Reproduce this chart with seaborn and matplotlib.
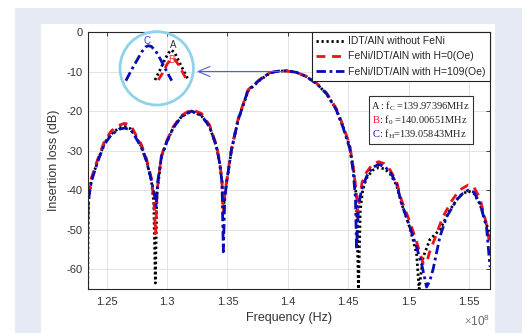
import matplotlib
matplotlib.use("Agg")
import numpy as np
import pandas as pd
import seaborn as sns
import matplotlib.pyplot as plt
from matplotlib.patches import Rectangle, Circle
from matplotlib.ticker import FuncFormatter
from matplotlib.offsetbox import TextArea, HPacker, VPacker, AnchoredOffsetbox

# ---- measured transmission spectra (frequency in units of 1e8 Hz, S21 in dB) ----
black_f = [1.2343, 1.2346, 1.2352, 1.2373, 1.2428, 1.2483, 1.2539, 1.2600, 1.2650, 1.2700,
           1.2733, 1.2788, 1.2829, 1.2870, 1.2890, 1.2903, 1.2916, 1.2953, 1.2995, 1.3050,
           1.3119, 1.3202, 1.3285, 1.3353, 1.3409, 1.3436, 1.3455, 1.3466, 1.3480, 1.3492,
           1.3533, 1.3588, 1.3671, 1.3768, 1.3850, 1.3920, 1.3990, 1.4070, 1.4154, 1.4240,
           1.4320, 1.4400, 1.4458, 1.4513, 1.4545, 1.4568, 1.4585, 1.4600, 1.4620, 1.4651,
           1.4700, 1.4750, 1.4800, 1.4845, 1.4900, 1.4941, 1.5010, 1.5066, 1.5087, 1.5120,
           1.5176, 1.5259, 1.5342, 1.5420, 1.5490, 1.5540, 1.5590, 1.5645, 1.5674]
black_db = [-65, -48, -42, -37.5, -32.4, -28, -25.8, -24.3, -23.9, -24.5,
            -26, -29, -32.4, -37.5, -43, -63.5, -41, -31.6, -28, -24.3,
            -21.4, -20, -21.2, -24, -29, -33.2, -38, -45, -41, -38.3,
            -29.9, -22.3, -14.9, -12.2, -10.4, -9.95, -9.8, -10.2, -11.3, -13.1,
            -15.6, -19.5, -24, -29, -35, -42, -65, -45, -40, -37,
            -35, -34.3, -34.6, -35.8, -38.7, -43.3, -49.5, -56, -65, -57,
            -52.5, -50, -45, -41.5, -40.2, -40.8, -43.5, -48.5, -52]

red_f = [1.2343, 1.2346, 1.2352, 1.2373, 1.2428, 1.2483, 1.2539, 1.2600, 1.2650, 1.2700,
         1.2733, 1.2788, 1.2829, 1.2870, 1.2892, 1.2905, 1.2918, 1.2953, 1.2995, 1.3050,
         1.3119, 1.3202, 1.3285, 1.3353, 1.3409, 1.3436, 1.3455, 1.3466, 1.3480, 1.3492,
         1.3533, 1.3588, 1.3671, 1.3768, 1.3850, 1.3920, 1.3990, 1.4070, 1.4154, 1.4240,
         1.4320, 1.4400, 1.4458, 1.4513, 1.4545, 1.4565, 1.4580, 1.4595, 1.4615, 1.4651,
         1.4700, 1.4750, 1.4800, 1.4845, 1.4900, 1.4941, 1.5010, 1.5066, 1.5100, 1.5120,
         1.5150, 1.5170, 1.5220, 1.5280, 1.5350, 1.5420, 1.5493, 1.5540, 1.5590, 1.5640,
         1.5674]
red_db = [-49, -44, -41, -37, -32, -27.5, -25, -23.6, -23.1, -23.6,
          -25.5, -28.5, -32, -37, -43, -51, -40, -31.3, -27.7, -24,
          -21.1, -19.6, -20.6, -23.6, -28.6, -32.8, -38, -46, -40, -38,
          -29.6, -22, -14.6, -12.0, -10.3, -9.9, -9.9, -10.2, -11.2, -13,
          -15.4, -19.3, -23.7, -28.7, -35, -40, -46, -42, -38, -35.5,
          -33.5, -32.8, -33.3, -34.8, -37.8, -42.5, -48, -53, -56.5, -58.5,
          -58.5, -56, -52, -47, -43, -40, -38.7, -39.2, -42, -48,
          -54]

blue_f = [1.2343, 1.2346, 1.2352, 1.2373, 1.2428, 1.2483, 1.2539, 1.2600, 1.2650, 1.2700,
          1.2733, 1.2788, 1.2829, 1.2870, 1.2895, 1.2910, 1.2922, 1.2953, 1.2995, 1.3050,
          1.3119, 1.3202, 1.3285, 1.3353, 1.3409, 1.3436, 1.3455, 1.3466, 1.3478, 1.3492,
          1.3533, 1.3588, 1.3671, 1.3768, 1.3850, 1.3920, 1.3990, 1.4070, 1.4154, 1.4240,
          1.4320, 1.4400, 1.4458, 1.4513, 1.4540, 1.4560, 1.4569, 1.4585, 1.4610, 1.4651,
          1.4700, 1.4750, 1.4800, 1.4845, 1.4900, 1.4941, 1.5010, 1.5066, 1.5110, 1.5149,
          1.5175, 1.5203, 1.5259, 1.5314, 1.5397, 1.5450, 1.5493, 1.5540, 1.5590, 1.5645,
          1.5674]
blue_db = [-52, -45, -42, -37.8, -32.6, -28.3, -26, -24.6, -24.3, -24.8,
           -26.3, -29.3, -32.6, -37.5, -41, -44, -38, -31.6, -28, -24.3,
           -21.4, -20, -21.1, -24, -29, -33.2, -38, -55.6, -42, -38.3,
           -29.9, -22.3, -14.7, -12.1, -10.3, -9.9, -9.8, -10.2, -11.3, -13.1,
           -15.6, -19.6, -24.2, -29.5, -35, -42, -55, -44, -40, -36.6,
           -34.3, -33.5, -34, -35.3, -38.3, -43.3, -49.3, -54.4, -59, -64.5,
           -63, -60, -51.8, -46.8, -42.5, -40.8, -40, -40.5, -43.3, -49.3,
           -59.4]

series_labels = ["IDT/AlN without FeNi",
                 "FeNi/IDT/AlN with H=0(Oe)",
                 "FeNi/IDT/AlN with H=109(Oe)"]

# close-up of the passband peak (frequency in MHz, dB)
peakA_f = [139.32, 139.50, 139.70, 139.85, 139.97, 140.10, 140.25, 140.45, 140.63]
peakA_db = [-10.12, -10.03, -9.92, -9.85, -9.82, -9.85, -9.93, -10.03, -10.12]
peakB_f = [139.45, 139.62, 139.80, 139.93, 140.01, 140.10, 140.25, 140.40, 140.57]
peakB_db = [-10.12, -10.05, -9.96, -9.915, -9.903, -9.915, -9.97, -10.04, -10.12]
peakC_f = [138.18, 138.40, 138.60, 138.80, 138.95, 139.06, 139.18, 139.35, 139.55, 139.75, 139.98]
peakC_db = [-10.127, -10.02, -9.93, -9.84, -9.79, -9.777, -9.785, -9.83, -9.92, -10.02, -10.127]

center_lines = [("A", ": f$_\\mathrm{C}$ =139.97396MHz"),
                ("B", ": f$_0$ =140.00651MHz"),
                ("C", ": f$_\\mathrm{H}$=139.05843MHz")]

x_ticks = [1.25, 1.30, 1.35, 1.40, 1.45, 1.50, 1.55]
y_ticks = [0, -10, -20, -30, -40, -50, -60]

# ---- styling ----
sns.set_theme(style="white")
plt.rcParams["font.family"] = ["Liberation Sans", "DejaVu Sans"]
plt.rcParams["axes.unicode_minus"] = False
plt.rcParams["mathtext.fontset"] = "custom"
plt.rcParams["mathtext.rm"] = "Liberation Serif"
plt.rcParams["mathtext.it"] = "Liberation Serif:italic"

C_BLACK = "#000000"
C_RED = "#e8141a"
C_BLUE = "#0a0ab8"
GRAY_TXT = "#333333"

W, H = 522, 333
fig = plt.figure(figsize=(W / 100, H / 100), dpi=100)
fig.patch.set_facecolor("white")

# page background panels
bg = fig.add_axes([0, 0, 1, 1], zorder=-10)
bg.set_xlim(0, W)
bg.set_ylim(H, 0)
bg.axis("off")
bg.add_patch(Rectangle((15, 8), W - 15, H - 8, color="#e6eaf5", lw=0))
bg.add_patch(Rectangle((41, 24), 495 - 41, H - 24, color="white", lw=0))

# main axes
L, R, T, B = 87.7, 490, 32, 289
ax = fig.add_axes([L / W, 1 - B / H, (R - L) / W, (B - T) / H])
ax.set_facecolor("white")

curves = [
    (black_f, black_db, C_BLACK, None),
    (red_f, red_db, C_RED, (3.2, 2.4)),
    (blue_f, blue_db, C_BLUE, (3.4, 1.3, 1.0, 1.3)),
]
handles = []
for (fx, dbv, col, dash), lab in zip(curves, series_labels):
    df = pd.DataFrame({"f": np.array(fx) * 1e8, "db": dbv})
    sns.lineplot(data=df, x="f", y="db", ax=ax, color=col, lw=2.0,
                 sort=False, estimator=None, label=lab)
    ln = ax.lines[-1]
    if dash is None:
        ln.set_linestyle((0, (0.8, 1.0)))
    else:
        ln.set_dashes(dash)
    handles.append(ln)

ax.set_xlim(1.2343e8, 1.5674e8)
ax.set_ylim(-65, 0)
ax.set_xticks([t * 1e8 for t in x_ticks])
ax.set_yticks(y_ticks)
ax.xaxis.set_major_formatter(FuncFormatter(lambda v, p: f"{v / 1e8:g}"))
ax.yaxis.set_major_formatter(FuncFormatter(lambda v, p: f"{v:g}"))
ax.grid(True, color="#e3e3e3", lw=0.7)
ax.tick_params(direction="in", length=3, width=0.6, top=True, right=True,
               labelsize=8, labelcolor=GRAY_TXT, color="#262626")
ax.tick_params(axis="x", pad=5.5)
ax.tick_params(axis="y", pad=3.5)
for sp in ax.spines.values():
    sp.set_color("#262626")
    sp.set_linewidth(0.8)

ax.set_xlabel("Frequency (Hz)", fontsize=9, color=GRAY_TXT, labelpad=3.5)
ax.set_ylabel("Insertion loss (dB)", fontsize=9, color=GRAY_TXT, labelpad=5)
ax.text(1.0, -0.095, r"$\times\mathregular{10^{8}}$", transform=ax.transAxes,
        ha="right", va="top", fontsize=8.5, color="#666666")

leg = ax.legend(handles=handles, labels=series_labels, loc="upper right",
                borderaxespad=0, fancybox=False, edgecolor="#222222",
                framealpha=1, fontsize=7.5, handlelength=2.7,
                handletextpad=0.4, borderpad=0.4, labelspacing=0.5)
leg.get_frame().set_linewidth(0.8)

# centre-frequency box with coloured tags
rows = []
for (tag, rest), col in zip(center_lines, ["#222222", C_RED, C_BLUE]):
    rows.append(HPacker(children=[
        TextArea(tag, textprops=dict(color=col, family="Liberation Serif", size=7.5)),
        TextArea(rest, textprops=dict(color="#222222", family="Liberation Serif", size=7.5)),
    ], align="baseline", pad=0, sep=0))
box = AnchoredOffsetbox(loc="upper left",
                        child=VPacker(children=rows, align="left", pad=0, sep=0.5),
                        pad=0.2, borderpad=0, frameon=True,
                        bbox_to_anchor=((369.3 - L) / (R - L), (B - 96) / (B - T)),
                        bbox_transform=ax.transAxes)
box.patch.set_boxstyle("square", pad=0)
box.patch.set_edgecolor("#333333")
box.patch.set_linewidth(0.8)
ax.add_artist(box)

# close-up of the resonance peaks
ins = fig.add_axes([120 / W, 1 - 84 / H, 75 / W, 46 / H], zorder=5)
ins.set_xlim(137.95, 140.89)
ins.set_ylim(-10.16, -9.70)
ins.axis("off")
ins.patch.set_alpha(0)
for fx, dbv, col, ls in [(peakA_f, peakA_db, C_BLACK, (0, (0.8, 1.0))),
                         (peakB_f, peakB_db, C_RED, (0, (3.0, 2.0))),
                         (peakC_f, peakC_db, C_BLUE, (0, (3.4, 1.3, 1.0, 1.3)))]:
    sns.lineplot(x=fx, y=dbv, ax=ins, color=col, lw=2.0, sort=False, estimator=None)
    ins.lines[-1].set_linestyle(ls)

# overlay: circle, arrow and peak tags
ov = fig.add_axes([0, 0, 1, 1], zorder=6)
ov.set_xlim(0, W)
ov.set_ylim(H, 0)
ov.axis("off")
ov.patch.set_alpha(0)
ov.add_patch(Circle((156.7, 68.3), 36.7, fill=False, ec="#8fd2ea", lw=2.0))
ov.annotate("", xy=(194, 71.5), xytext=(286, 71.5),
            arrowprops=dict(arrowstyle="->,head_length=0.7,head_width=0.3",
                            color="#4a5ee8", lw=0.8))
ov.text(147.3, 41, "C", color="#3a3af0", fontsize=7, ha="center", va="center")
ov.text(173.5, 45, "A", color="#333333", fontsize=7, ha="center", va="center")
ov.text(171.7, 60, "B", color="#e83030", fontsize=7, ha="center", va="center")

fig.savefig("out.png", dpi=100, facecolor="white")
